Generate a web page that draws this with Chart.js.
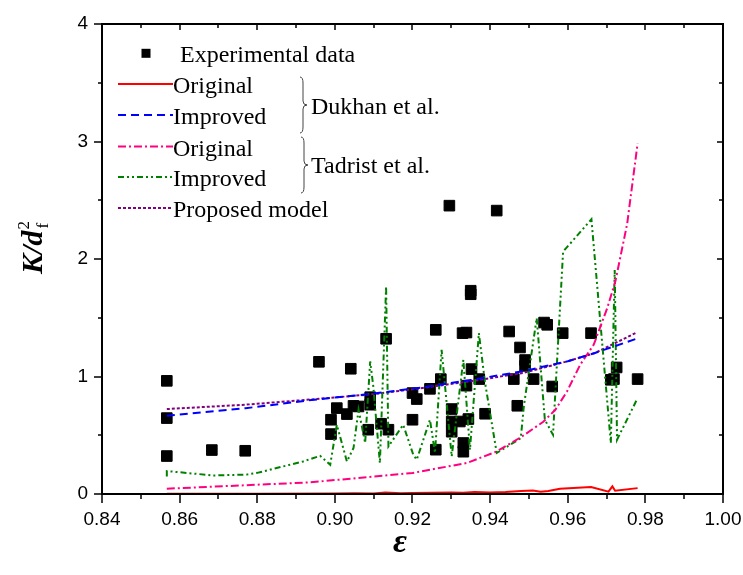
<!DOCTYPE html>
<html>
<head>
<meta charset="utf-8">
<script src="https://cdn.jsdelivr.net/npm/chart.js@4.4.1/dist/chart.umd.min.js"></script>
<style>
  html, body { margin: 0; padding: 0; background: #fff; }
  #wrap { width: 743px; height: 575px; }
</style>
</head>
<body>
<div id="wrap"><canvas id="kChart" width="743" height="575"></canvas></div>
<script>
// experimental data (porosity, K/df^2)
const expEps = [0.8567, 0.8567, 0.8567, 0.8683, 0.8769, 0.8959, 0.9041, 0.9005, 0.8990, 0.8990,
  0.9031, 0.9048, 0.9061, 0.9091, 0.9091, 0.9086, 0.9132, 0.9119, 0.9138, 0.9200,
  0.9211, 0.9200, 0.9245, 0.9260, 0.9273, 0.9260, 0.9295, 0.9417, 0.9301, 0.9301,
  0.9301, 0.9322, 0.9344, 0.9331, 0.9331, 0.9387, 0.9339, 0.9352, 0.9372, 0.9329,
  0.9339, 0.9350, 0.9350, 0.9449, 0.9461, 0.9477, 0.9490, 0.9490, 0.9470, 0.9512,
  0.9539, 0.9547, 0.9560, 0.9587, 0.9660, 0.9711, 0.9719, 0.9726, 0.9780]
const expK = [0.963, 0.646, 0.323, 0.374, 0.368, 1.125, 1.066, 0.731, 0.632, 0.510,
  0.680, 0.750, 0.745, 0.824, 0.760, 0.547, 1.321, 0.598, 0.547, 0.859,
  0.808, 0.632, 0.895, 1.397, 0.978, 0.377, 2.454, 2.412, 0.723, 0.617,
  0.530, 0.617, 0.638, 0.434, 0.360, 0.683, 0.922, 1.063, 0.978, 1.369,
  1.374, 1.730, 1.700, 1.383, 0.978, 1.247, 1.140, 1.090, 0.751, 0.978,
  1.459, 1.440, 0.915, 1.369, 1.369, 0.972, 0.978, 1.077, 0.978]

// Dukhan et al. - original
const dukhanOrigEps = [0.8567, 0.88, 0.90, 0.905, 0.91, 0.913, 0.917, 0.92, 0.925, 0.93, 0.933, 0.936,
  0.94, 0.944, 0.948, 0.951, 0.953, 0.955, 0.958, 0.966, 0.9705, 0.9715, 0.9722, 0.978]
const dukhanOrigK = [0.002, 0.003, 0.004, 0.006, 0.005, 0.012, 0.006, 0.008, 0.010, 0.012, 0.010, 0.018,
  0.012, 0.016, 0.025, 0.030, 0.020, 0.025, 0.045, 0.060, 0.020, 0.065, 0.028, 0.050]

// Dukhan et al. - improved
const dukhanImpEps = [0.8567, 0.877, 0.894, 0.910, 0.922, 0.935, 0.9485, 0.960, 0.967, 0.978]
const dukhanImpK = [0.666, 0.730, 0.800, 0.855, 0.905, 0.970, 1.045, 1.130, 1.200, 1.325]

// Tadrist et al. - original
const tadristOrigEps = [0.8567, 0.8936, 0.920, 0.934, 0.9417, 0.9481, 0.9537, 0.9568, 0.9598,
  0.9632, 0.9667, 0.9702, 0.9723, 0.9753, 0.978]
const tadristOrigK = [0.045, 0.099, 0.179, 0.264, 0.362, 0.487, 0.615, 0.717, 0.872,
  1.100, 1.271, 1.585, 1.814, 2.298, 2.984]

// Tadrist et al. - improved
const tadristImpEps = [0.8567, 0.8567, 0.8687, 0.8773, 0.8800, 0.8918, 0.8962, 0.8988, 0.9005, 0.9031,
  0.9048, 0.9061, 0.9078, 0.9091, 0.9099, 0.9116, 0.9132, 0.9138, 0.9176, 0.9202,
  0.9211, 0.9245, 0.9258, 0.9275, 0.9301, 0.9331, 0.9348, 0.9371, 0.9387, 0.9417,
  0.9479, 0.9487, 0.9520, 0.9541, 0.9562, 0.9588, 0.9601, 0.9661, 0.9711, 0.9721,
  0.9727, 0.978]
const tadristImpK = [0.150, 0.195, 0.158, 0.165, 0.180, 0.277, 0.325, 0.249, 0.589, 0.277,
  0.391, 0.717, 0.434, 1.128, 0.915, 0.264, 1.765, 0.405, 0.589, 0.334,
  0.292, 0.632, 0.349, 1.227, 0.320, 1.142, 0.377, 1.369, 0.946, 0.349,
  0.475, 0.750, 1.497, 0.632, 0.504, 2.063, 2.111, 2.338, 0.434, 1.907,
  0.462, 0.816]

// proposed model
const proposedEps = [0.8567, 0.877, 0.894, 0.910, 0.922, 0.935, 0.9485, 0.960, 0.967, 0.9778]
const proposedK = [0.723, 0.760, 0.805, 0.850, 0.900, 0.960, 1.030, 1.130, 1.200, 1.375]

const xTicks = [0.84, 0.86, 0.88, 0.90, 0.92, 0.94, 0.96, 0.98, 1.00]
const yTicks = [0, 1, 2, 3, 4]

const pts = (xs, ys) => xs.map((x, i) => ({ x: x, y: ys[i] }))

const line = (label, xs, ys, color, dash, width) => ({
    label: label,
    data: pts(xs, ys),
    showLine: true,
    borderColor: color,
    backgroundColor: color,
    borderWidth: width,
    borderDash: dash,
    pointRadius: 0,
    tension: 0,
    order: 1
})

// frame, minor ticks, axis titles and the legend block
const decorations = {
    id: 'decorations',
    afterDraw(chart) {
        const ctx = chart.ctx
        const a = chart.chartArea
        const xs = chart.scales.x
        const ys = chart.scales.y
        ctx.save()
        ctx.strokeStyle = '#000'
        ctx.lineWidth = 2
        ctx.strokeRect(a.left, a.top, a.right - a.left, a.bottom - a.top)

        ctx.lineWidth = 1.5
        ctx.beginPath()
        for (let i = 0; i <= 16; i++) {
            const px = Math.round(xs.getPixelForValue(0.84 + i * 0.01))
            const major = i % 2 === 0
            ctx.moveTo(px, a.bottom); ctx.lineTo(px, a.bottom + (major ? 9 : 5))
            ctx.moveTo(px, a.top); ctx.lineTo(px, a.top + (major ? 6 : 4))
        }
        for (let i = 0; i <= 8; i++) {
            const py = Math.round(ys.getPixelForValue(i * 0.5))
            const major = i % 2 === 0
            ctx.moveTo(a.left, py); ctx.lineTo(a.left - (major ? 8 : 4), py)
            ctx.moveTo(a.right, py); ctx.lineTo(a.right - (major ? 6 : 4), py)
        }
        ctx.stroke()

        // y title  K/d_f^2
        ctx.fillStyle = '#000'
        ctx.translate(42, 248)
        ctx.rotate(-Math.PI / 2)
        ctx.font = 'italic bold 30px "Liberation Serif"'
        const main = 'K/d'
        const wMain = ctx.measureText(main).width
        ctx.font = '17px "Liberation Serif"'
        const wSub = ctx.measureText('2').width
        const x0 = -(wMain + wSub) / 2
        ctx.font = 'italic bold 30px "Liberation Serif"'
        ctx.textBaseline = 'alphabetic'
        ctx.fillText(main, x0, 0)
        ctx.font = '17px "Liberation Serif"'
        ctx.fillText('2', x0 + wMain + 1, -13)
        ctx.fillText('f', x0 + wMain + 2, 6)
        ctx.setTransform(1, 0, 0, 1, 0, 0)

        // x title
        ctx.font = 'italic bold 34px "Liberation Serif"'
        ctx.textAlign = 'center'
        ctx.fillText('ε', 400, 552)
        ctx.textAlign = 'left'

        // legend
        ctx.font = '24px "Liberation Serif"'
        ctx.fillRect(141.5, 48.8, 9, 9)
        ctx.fillText('Experimental data', 180, 62)
        const rows = [
            ['Original', '#ff0000', [], 84],
            ['Improved', '#0000ff', [8, 5], 115],
            ['Original', '#ff0080', [8, 3, 2, 3], 146.5],
            ['Improved', '#008000', [6, 3, 2, 3, 2, 3], 177],
            ['Proposed model', '#800080', [3, 2], 208]
        ]
        rows.forEach(r => {
            ctx.strokeStyle = r[1]
            ctx.lineWidth = 2
            ctx.setLineDash(r[2])
            ctx.beginPath()
            ctx.moveTo(118, r[3]); ctx.lineTo(173, r[3])
            ctx.stroke()
            ctx.setLineDash([])
            ctx.fillStyle = '#000'
            ctx.fillText(r[0], 173, r[3] + 9)
        })

        // braces
        const brace = (x, y1, y2) => {
            const m = (y1 + y2) / 2
            ctx.beginPath()
            ctx.moveTo(x - 3, y1)
            ctx.quadraticCurveTo(x, y1, x, y1 + 6)
            ctx.lineTo(x, m - 4)
            ctx.quadraticCurveTo(x, m, x + 4, m)
            ctx.quadraticCurveTo(x, m, x, m + 4)
            ctx.lineTo(x, y2 - 6)
            ctx.quadraticCurveTo(x, y2, x - 3, y2)
            ctx.stroke()
        }
        ctx.strokeStyle = '#444'
        ctx.lineWidth = 1
        brace(303, 77, 133)
        brace(304, 137, 193)
        ctx.fillText('Dukhan et al.', 311, 114)
        ctx.fillText('Tadrist et al.', 311, 173)
        ctx.restore()
    }
}

new Chart(document.getElementById('kChart'), {
    type: 'scatter',
    data: {
        datasets: [
            line('Dukhan original', dukhanOrigEps, dukhanOrigK, '#ff0000', [], 2),
            line('Dukhan improved', dukhanImpEps, dukhanImpK, '#0000ff', [8, 5], 2),
            line('Tadrist original', tadristOrigEps, tadristOrigK, '#ff0080', [8, 3, 2, 3], 2),
            line('Tadrist improved', tadristImpEps, tadristImpK, '#008000', [6, 3, 2, 3, 2, 3], 2),
            line('Proposed model', proposedEps, proposedK, '#800080', [3, 2], 2),
            {
                label: 'Experimental data',
                data: pts(expEps, expK),
                pointStyle: 'rect',
                pointRadius: 7.5,
                pointBackgroundColor: '#000',
                pointBorderColor: '#000',
                pointBorderWidth: 1,
                order: 5
            }
        ]
    },
    options: {
        responsive: false,
        animation: false,
        devicePixelRatio: 1,
        layout: { padding: { top: 24, right: 20, left: 0, bottom: 0 } },
        plugins: { legend: { display: false }, tooltip: { enabled: false } },
        scales: {
            x: {
                type: 'linear',
                min: 0.84,
                max: 1.0,
                afterBuildTicks: s => { s.ticks = xTicks.map(v => ({ value: v })) },
                afterFit: s => { s.height = 81; s.paddingLeft = 0; s.paddingRight = 0 },
                grid: { display: false, drawTicks: false },
                border: { display: false },
                ticks: {
                    padding: 14,
                    color: '#000',
                    font: { family: '"Liberation Sans"', size: 19 },
                    callback: v => v.toFixed(2)
                }
            },
            y: {
                type: 'linear',
                min: 0,
                max: 4,
                afterBuildTicks: s => { s.ticks = yTicks.map(v => ({ value: v })) },
                afterFit: s => { s.width = 102; s.paddingTop = 0; s.paddingBottom = 0 },
                grid: { display: false, drawTicks: false },
                border: { display: false },
                ticks: {
                    padding: 14,
                    color: '#000',
                    font: { family: '"Liberation Sans"', size: 19 },
                    callback: v => String(v)
                }
            }
        }
    },
    plugins: [decorations]
})
</script>
</body>
</html>
